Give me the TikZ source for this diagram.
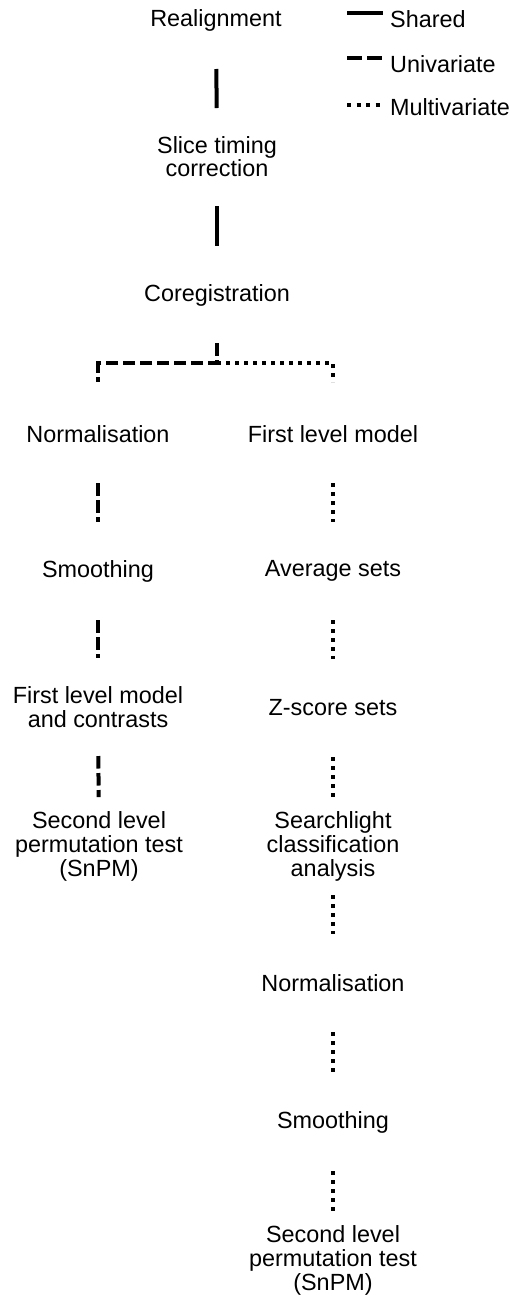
\documentclass[tikz,border=0pt]{standalone}
\usepackage{fontspec}
\setmainfont{Liberation Sans}
\begin{document}
\begin{tikzpicture}[x=1pt,y=-1pt,
  lbl/.style={font=\fontsize{23.4}{24}\selectfont, align=center, inner sep=0pt},
  shared/.style={line width=4pt},
  univ/.style={line width=4pt, dash pattern=on 12.5pt off 4.5pt},
  multi/.style={line width=4pt, dash pattern=on 4pt off 5pt},
  conn/.style={shorten <=49pt, shorten >=49pt}]
\useasboundingbox (0,0) rectangle (509,1299);
% shared trunk
\node[lbl] (real) at (216,20) {Realignment};
\node[lbl, font=\fontsize{23.4}{20}\selectfont] (slice) at (217,157) {Slice timing\\correction};
\node[lbl] (coreg) at (217,295) {Coregistration};
% univariate column
\node[lbl] (normL) at (98,434) {Normalisation};
\node[lbl] (smoothL) at (98,571) {Smoothing};
\node[lbl] (flmL) at (98,707) {First level model\\and contrasts};
\node[lbl] (slL) at (99,846) {Second level\\permutation test\\(SnPM)};
% multivariate column
\node[lbl] (firstR) at (333,434) {First level model};
\node[lbl] (avgR) at (333,571) {Average sets};
\node[lbl] (zR) at (333,708) {Z-score sets};
\node[lbl] (searchR) at (333,846) {Searchlight\\classification\\analysis};
\node[lbl] (normR) at (333,983) {Normalisation};
\node[lbl] (smoothR) at (333,1122) {Smoothing};
\node[lbl] (slR) at (333,1260) {Second level\\permutation test\\(SnPM)};
% connectors
\draw[shared, conn] (real.center) -- (slice.center);
\draw[shared, conn] (slice.center) -- (coreg.center);
\coordinate (br) at (217,363);
\draw[univ, shorten <=48pt, shorten >=52pt] (coreg.center) -- (br) -| (normL.center);
\draw[multi, shorten >=52pt] (br) -| (firstR.center);
\draw[univ, conn] (normL.center) -- (smoothL.center);
\draw[univ, conn] (smoothL.center) -- (flmL.center);
\draw[univ, conn] (flmL.center) -- (slL.center);
\draw[multi, conn] (firstR.center) -- (avgR.center);
\draw[multi, conn] (avgR.center) -- (zR.center);
\draw[multi, conn] (zR.center) -- (searchR.center);
\draw[multi, conn] (searchR.center) -- (normR.center);
\draw[multi, conn] (normR.center) -- (smoothR.center);
\draw[multi, conn] (smoothR.center) -- (slR.center);
% legend
\coordinate (l1a) at (347,13); \coordinate (l1b) at (383,13);
\coordinate (l2a) at (347,58); \coordinate (l2b) at (383,58);
\coordinate (l3a) at (347,105); \coordinate (l3b) at (381,105);
\draw[shared] (l1a) -- (l1b);
\draw[univ, dash pattern=on 15pt off 5pt] (l2a) -- (l2b);
\draw[multi, dash pattern=on 4pt off 5.5pt] (l3a) -- (l3b);
\node[lbl, anchor=base west] (lg1) at (390,27) {Shared};
\node[lbl, anchor=base west] (lg2) at (390,72) {Univariate};
\node[lbl, anchor=base west] (lg3) at (390,115) {Multivariate};
\end{tikzpicture}
\end{document}
